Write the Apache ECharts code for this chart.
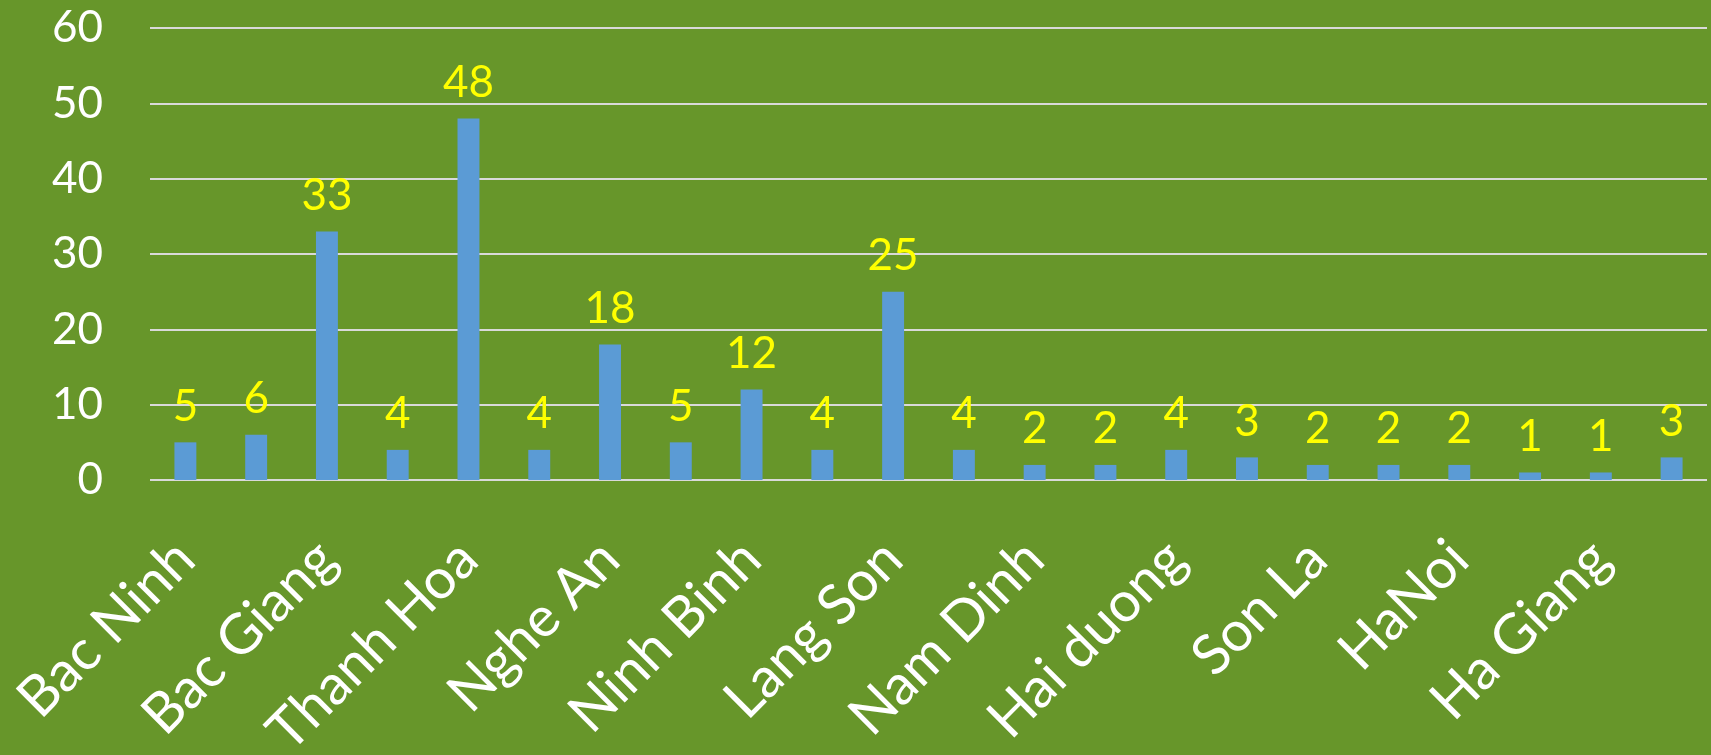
<!DOCTYPE html>
<html>
<head>
<meta charset="utf-8">
<script src="https://cdn.jsdelivr.net/npm/echarts@6/dist/echarts.min.js"></script>
<style>
html,body{margin:0;padding:0;background:#67962A;}
#chart{width:1711px;height:755px;}
</style>
</head>
<body>
<div id="chart"></div>
<script>
// Categories (odd-index labels are hidden in the reference, so their names are unknown)
var categories = ['Bac Ninh', '', 'Bac Giang', '', 'Thanh Hoa', '', 'Nghe An', '', 'Ninh Binh', '', 'Lang Son', '', 'Nam Dinh', '', 'Hai duong', '', 'Son La', '', 'HaNoi', '', 'Ha Giang', ''];
var values = [5, 6, 33, 4, 48, 4, 18, 5, 12, 4, 25, 4, 2, 2, 4, 3, 2, 2, 2, 1, 1, 3];
var yTicks = [0, 10, 20, 30, 40, 50, 60];

var FONT = 'Lato';
var chart = echarts.init(document.getElementById('chart'), null, {renderer: 'canvas'});
chart.setOption({
  backgroundColor: '#67962A',
  animation: false,
  grid: {left: 150, right: 4, top: 28, bottom: 275, containLabel: false, outerBoundsMode: 'none'},
  xAxis: {
    type: 'category',
    data: categories,
    axisLine: {show: false},
    axisTick: {show: false},
    axisLabel: {
      interval: 1,
      rotate: 45,
      margin: 70,
      color: '#FFFFFF',
      fontSize: 56,
      fontFamily: FONT
    }
  },
  yAxis: {
    type: 'value',
    min: yTicks[0],
    max: yTicks[yTicks.length - 1],
    interval: 10,
    axisLine: {show: false},
    axisTick: {show: false},
    axisLabel: {color: '#FFFFFF', fontSize: 44, fontFamily: FONT, margin: 47},
    splitLine: {lineStyle: {color: '#D9D9D9', width: 2}}
  },
  series: [{
    type: 'bar',
    data: values,
    barWidth: '31%',
    itemStyle: {color: '#5B9BD5'},
    label: {
      show: true,
      position: 'top',
      distance: 14,
      color: '#FFFF00',
      fontSize: 44,
      fontFamily: FONT
    }
  }]
});
</script>
</body>
</html>
